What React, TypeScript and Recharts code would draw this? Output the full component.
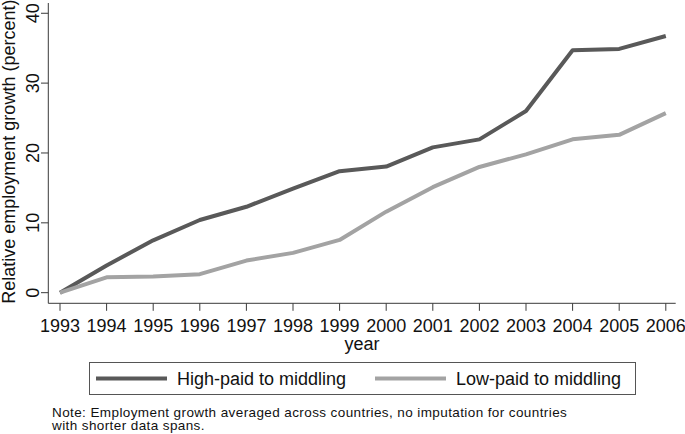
import React from "react";
import { LineChart, Line, XAxis, YAxis, Legend } from "recharts";

const years = [1993, 1994, 1995, 1996, 1997, 1998, 1999, 2000, 2001, 2002, 2003, 2004, 2005, 2006];
const highPaid = [0, 3.9, 7.5, 10.4, 12.3, 14.9, 17.4, 18.05, 20.8, 21.95, 26.0, 34.7, 34.9, 36.75];
const lowPaid = [0, 2.2, 2.3, 2.65, 4.6, 5.7, 7.55, 11.6, 15.1, 18.0, 19.8, 21.95, 22.6, 25.7];
const yTicks = [0, 10, 20, 30, 40];
const seriesNames = ["High-paid to middling", "Low-paid to middling"];
const noteText =
  "Note: Employment growth averaged across countries, no imputation for countries with shorter data spans.";

const data = years.map((year, i) => ({ year, high: highPaid[i], low: lowPaid[i] }));

const FONT = "'Liberation Sans', Arial, sans-serif";
const AXIS = "#3a3a3a";
const TEXT = "#111";
const HIGH = "#595959";
const LOW = "#a3a3a3";

const YTick = (props: any) => {
  const { x, y, payload } = props;
  return (
    <text
      x={0}
      y={0}
      transform={`translate(${x},${y}) rotate(-90)`}
      textAnchor="middle"
      fontSize={18}
      fontFamily={FONT}
      fill={TEXT}
    >
      {payload.value}
    </text>
  );
};

const YLabel = (props: any) => {
  const vb = props.viewBox || { x: 0, y: 3, width: 48, height: 300 };
  const cx = vb.x + 15;
  const cy = vb.y + vb.height / 2 - 1.5;
  return (
    <text
      x={0}
      y={0}
      transform={`translate(${cx},${cy}) rotate(-90)`}
      textAnchor="middle"
      fontSize={18}
      fontFamily={FONT}
      fill={TEXT}
    >
      Relative employment growth (percent)
    </text>
  );
};

const LegendBox = () => (
  <svg width={548} height={34} style={{ display: "block" }}>
    <rect x={0.5} y={0.5} width={546} height={32} fill="#fff" stroke="#555" strokeWidth={1} />
    <line x1={7} x2={78} y1={16.5} y2={16.5} stroke={HIGH} strokeWidth={4} />
    <text x={88} y={23} fontSize={18} fontFamily={FONT} fill={TEXT}>
      {seriesNames[0]}
    </text>
    <line x1={286} x2={357} y1={16.5} y2={16.5} stroke={LOW} strokeWidth={4} />
    <text x={367} y={23} fontSize={18} fontFamily={FONT} fill={TEXT}>
      {seriesNames[1]}
    </text>
  </svg>
);

export default function App() {
  return (
    <div style={{ position: "absolute", left: 0, top: 0, width: 685, height: 434, background: "#fff" }}>
      <LineChart
        width={685}
        height={434}
        data={data}
        margin={{ top: 3, right: 9.3, left: 0, bottom: 80.7 }}
      >
        <XAxis
          dataKey="year"
          type="number"
          domain={[1993, 2006]}
          padding={{ left: 11.7, right: 9.9 }}
          ticks={years}
          interval={0}
          height={50}
          tickSize={7.5}
          tickMargin={8}
          stroke={AXIS}
          tick={{ fontSize: 18, fontFamily: FONT, fill: TEXT }}
          label={{ value: "year", position: "insideBottom", offset: 3, fontSize: 18, fontFamily: FONT, fill: TEXT }}
        />
        <XAxis xAxisId="top" orientation="top" height={0} tick={false} tickLine={false} stroke={AXIS} />
        <YAxis
          type="number"
          domain={[-1.52, 41.47]}
          allowDataOverflow
          ticks={yTicks}
          interval={0}
          width={48.3}
          tickSize={7.3}
          tickMargin={2}
          stroke={AXIS}
          tick={<YTick />}
          label={<YLabel />}
        />
        <YAxis yAxisId="right" orientation="right" width={0} tick={false} tickLine={false} stroke={AXIS} />
        <Line
          dataKey="high"
          name={seriesNames[0]}
          stroke={HIGH}
          strokeWidth={4}
          dot={false}
          isAnimationActive={false}
          strokeLinejoin="round"
        />
        <Line
          dataKey="low"
          name={seriesNames[1]}
          stroke={LOW}
          strokeWidth={4}
          dot={false}
          isAnimationActive={false}
          strokeLinejoin="round"
        />
        <Legend
          layout="horizontal"
          verticalAlign="middle"
          align="center"
          content={() => <LegendBox />}
          wrapperStyle={{ position: "absolute", left: 89, top: 362, width: 548, height: 34 }}
        />
      </LineChart>
      <div
        style={{
          position: "absolute",
          left: 52,
          top: 406.3,
          width: 525,
          fontFamily: FONT,
          fontSize: 13.5,
          letterSpacing: "0.4px",
          lineHeight: "13px",
          color: TEXT,
        }}
      >
        {noteText}
      </div>
    </div>
  );
}
